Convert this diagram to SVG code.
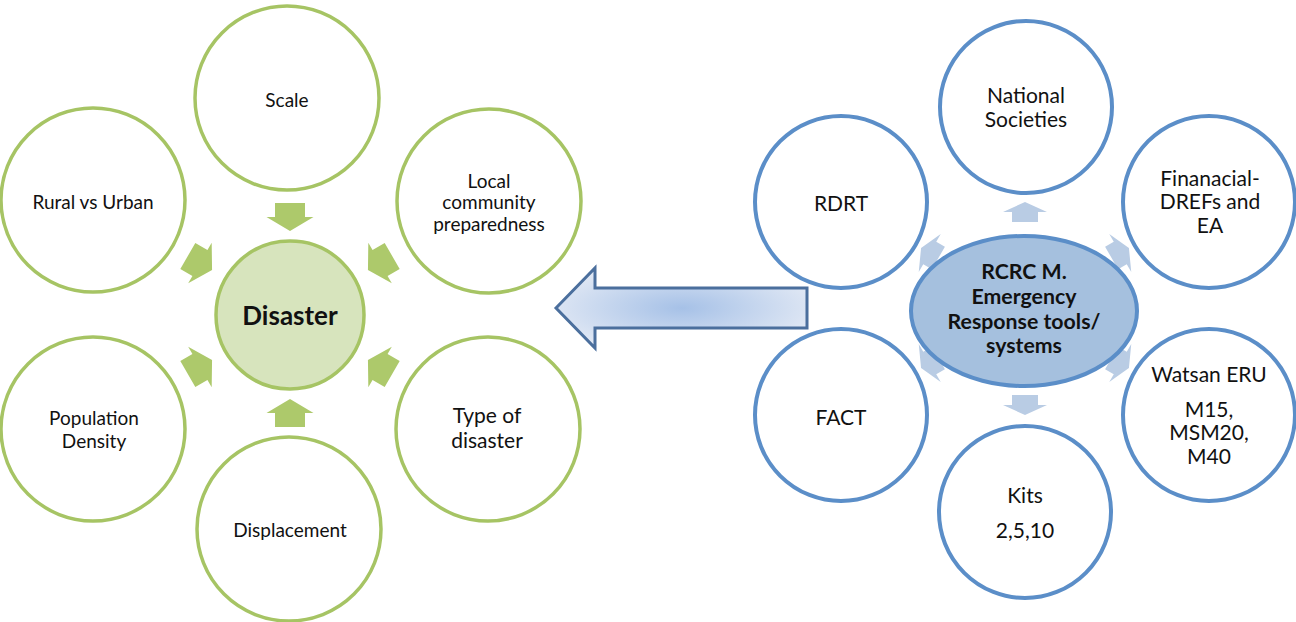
<svg xmlns="http://www.w3.org/2000/svg" width="1296" height="622" viewBox="0 0 1296 622">
  <defs>
    <radialGradient id="bigArrowFill" gradientUnits="userSpaceOnUse" cx="682" cy="308" r="135" gradientTransform="translate(682 308) scale(1 0.32) translate(-682 -308)">
      <stop offset="0" stop-color="#a6c1e7"/>
      <stop offset="1" stop-color="#dfe7f4"/>
    </radialGradient>
    <!-- converging arrow (points +x, origin at middle) -->
    <polygon id="inArrow" points="-14,-15 0,-15 0,-23.5 14,0 0,23.5 0,15 -14,15"/>
    <!-- diverging arrow (points +x, origin at head base) -->
    <polygon id="outArrow" points="-10,-13 0,-13 0,-22 10,0 0,22 0,13 -10,13"/>
  </defs>
  <style>
    .g-node { fill: #ffffff; stroke: #a6c464; stroke-width: 3.5; }
    .g-core { fill: #d7e4bd; stroke: #a6c464; stroke-width: 3.5; }
    .b-node { fill: #ffffff; stroke: #5b8ec8; stroke-width: 4; }
    .b-core { fill: #a5c0de; stroke: #5b8ec8; stroke-width: 4; }
    .g-arrow { fill: #adc96b; }
    .b-arrow { fill: #b9cce4; }
    .big-arrow { fill: url(#bigArrowFill); stroke: #4b6f9d; stroke-width: 3; stroke-linejoin: miter; }
    text { font-family: Lato, "Open Sans", "Liberation Sans", sans-serif; fill: #111111; text-anchor: middle; }
    .s { font-size: 19px; }
    .m { font-size: 21px; }
    .l { font-size: 21px; }
    .core-t { font-size: 21.3px; font-weight: bold; }
    .dis-t { font-size: 26px; font-weight: bold; }
  </style>

  <rect x="0" y="0" width="1296" height="622" fill="#ffffff"/>

  <!-- connectors -->
  <g id="connectors">
    <g id="left-arrows" class="g-arrow">
      <use href="#inArrow" transform="translate(290 315) rotate(90) translate(-98 0)"/>
      <use href="#inArrow" transform="translate(290 315) rotate(150) translate(-104 0)"/>
      <use href="#inArrow" transform="translate(290 315) rotate(210) translate(-104 0)"/>
      <use href="#inArrow" transform="translate(290 315) rotate(270) translate(-98 0)"/>
      <use href="#inArrow" transform="translate(290 315) rotate(330) translate(-104 0)"/>
      <use href="#inArrow" transform="translate(290 315) rotate(30) translate(-104 0)"/>
    </g>
    <g id="right-arrows" class="b-arrow">
      <use href="#outArrow" transform="translate(1025 308) rotate(-90) translate(96 0)"/>
      <use href="#outArrow" transform="translate(1025 308) rotate(90) translate(97 0)"/>
      <use href="#outArrow" transform="translate(1025 308) rotate(-30) translate(110 0)"/>
      <use href="#outArrow" transform="translate(1025 308) rotate(30) translate(110 0)"/>
      <use href="#outArrow" transform="translate(1025 308) rotate(210) translate(110 0)"/>
      <use href="#outArrow" transform="translate(1025 308) rotate(150) translate(110 0)"/>
    </g>
    <polygon id="link-arrow" class="big-arrow" points="556,308 595,268 595,288 807,288 807,328 595,328 595,348"/>
  </g>

  <!-- disaster factors -->
  <g id="node-scale">
    <circle class="g-node" cx="287" cy="98" r="92"/>
    <text class="s" x="287" y="107">Scale</text>
  </g>
  <g id="node-rural-urban">
    <circle class="g-node" cx="93" cy="200" r="92"/>
    <text class="s" x="93" y="209">Rural vs Urban</text>
  </g>
  <g id="node-local-community">
    <circle class="g-node" cx="489" cy="201" r="92"/>
    <text class="s" x="489" y="188">Local</text>
    <text class="s" x="489" y="209">community</text>
    <text class="s" x="489" y="231">preparedness</text>
  </g>
  <g id="node-population">
    <circle class="g-node" cx="93" cy="429" r="92"/>
    <text class="s" x="94" y="425">Population</text>
    <text class="s" x="94" y="448">Density</text>
  </g>
  <g id="node-type">
    <circle class="g-node" cx="488" cy="429" r="92"/>
    <text class="l" x="487" y="423">Type of</text>
    <text class="l" x="487" y="448">disaster</text>
  </g>
  <g id="node-displacement">
    <circle class="g-node" cx="289" cy="529" r="92"/>
    <text class="s" x="290" y="537">Displacement</text>
  </g>
  <g id="node-disaster">
    <circle class="g-core" cx="290" cy="315" r="74"/>
    <text class="dis-t" x="290" y="325">Disaster</text>
  </g>

  <!-- response tools -->
  <g id="node-national">
    <circle class="b-node" cx="1026" cy="107" r="86"/>
    <text class="m" x="1026" y="103">National</text>
    <text class="m" x="1026" y="127">Societies</text>
  </g>
  <g id="node-rdrt">
    <circle class="b-node" cx="841" cy="202" r="86"/>
    <text class="m" x="841" y="211">RDRT</text>
  </g>
  <g id="node-financial">
    <circle class="b-node" cx="1209" cy="202" r="86"/>
    <text class="m" x="1210" y="186">Finanacial-</text>
    <text class="m" x="1210" y="209">DREFs and</text>
    <text class="m" x="1210" y="233">EA</text>
  </g>
  <g id="node-fact">
    <circle class="b-node" cx="841" cy="415" r="86"/>
    <text class="m" x="841" y="425">FACT</text>
  </g>
  <g id="node-watsan">
    <circle class="b-node" cx="1209" cy="415" r="86"/>
    <text class="m" x="1209" y="382">Watsan ERU</text>
    <text class="m" x="1209" y="417">M15,</text>
    <text class="m" x="1209" y="440">MSM20,</text>
    <text class="m" x="1209" y="464">M40</text>
  </g>
  <g id="node-kits">
    <circle class="b-node" cx="1025" cy="512" r="86"/>
    <text class="m" x="1025" y="503">Kits</text>
    <text class="m" x="1025" y="538">2,5,10</text>
  </g>
  <g id="node-rcrc">
    <ellipse class="b-core" cx="1024" cy="311" rx="113" ry="75"/>
    <text class="core-t" x="1024" y="279">RCRC M.</text>
    <text class="core-t" x="1024" y="304">Emergency</text>
    <text class="core-t" x="1024" y="329">Response tools/</text>
    <text class="core-t" x="1024" y="353">systems</text>
  </g>
</svg>
